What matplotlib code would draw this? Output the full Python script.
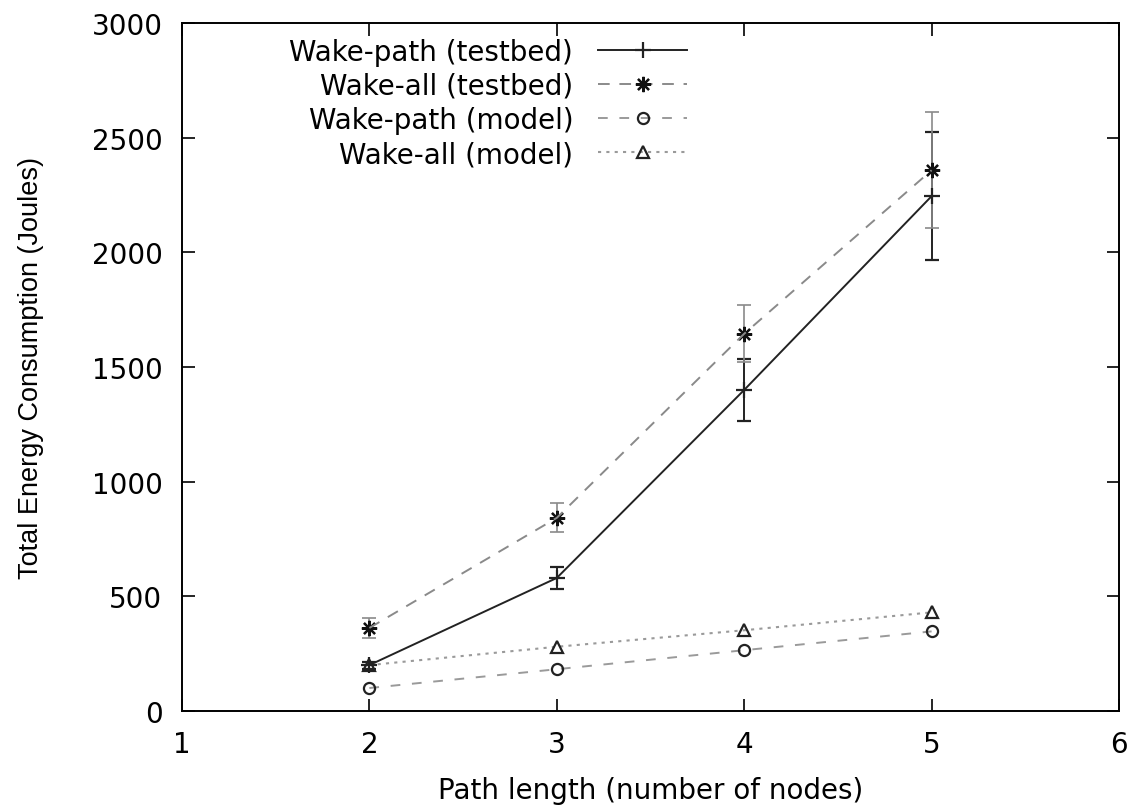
import matplotlib
matplotlib.use("Agg")
import matplotlib.pyplot as plt
from matplotlib.lines import Line2D

plt.rcParams['font.family'] = ['DejaVu Sans']

# path length (number of nodes)
path_len = [2, 3, 4, 5]

# testbed measurements with std-dev
wake_path_tb = [200, 580, 1400, 2245]
wake_path_tb_err = [15, 48, 135, 280]
wake_all_tb = [362, 842, 1645, 2358]
wake_all_tb_err = [45, 63, 125, 252]

# model estimates
wake_path_model = [100, 182, 265, 347]
wake_all_model = [200, 280, 352, 430]

labels = ["Wake-path (testbed)", "Wake-all (testbed)",
          "Wake-path (model)", "Wake-all (model)"]

# styles for the four series
st1 = dict(color='#222222', ls='-', lw=1.4, marker='+', ms=11, mew=1.6)
st2 = dict(color='#8a8a8a', ls=(0, (6, 5)), lw=1.4)
star = dict(marker=(8, 2, 0), ms=11, mew=1.6, mec='#111111')
st3 = dict(color='#9a9a9a', ls=(0, (5, 6)), lw=1.4, marker='o', ms=8,
           mfc='none', mec='#222222', mew=1.6)
st4 = dict(color='#9a9a9a', ls=(0, (1.5, 2.5)), lw=1.5, marker='^', ms=8,
           mfc='none', mec='#222222', mew=1.6)

fig = plt.figure(figsize=(11.4, 8.12), dpi=100)
ax = fig.add_axes([0.1596, 0.1232, 0.8220, 0.8472])

ax.errorbar(path_len, wake_path_tb, yerr=wake_path_tb_err, **st1,
            capsize=5, elinewidth=1.4, capthick=1.4)
ax.errorbar(path_len, wake_all_tb, yerr=wake_all_tb_err, **st2,
            capsize=5, elinewidth=1.2, capthick=1.2)
ax.plot(path_len, wake_all_tb, ls='none', **star)
ax.plot(path_len, wake_path_model, **st3)
ax.plot(path_len, wake_all_model, **st4)

ax.set_xlim(1, 6)
ax.set_ylim(0, 3000)
ax.set_xticks([1, 2, 3, 4, 5, 6])
ax.set_yticks([0, 500, 1000, 1500, 2000, 2500, 3000])
ax.tick_params(direction='in', length=9, width=1.2, top=True, right=True,
               labelsize=20, pad=14)
for sp in ax.spines.values():
    sp.set_linewidth(1.4)

ax.set_xlabel("Path length (number of nodes)", fontsize=20, labelpad=13)
ax.set_ylabel("Total Energy Consumption (Joules)", fontsize=19.5, labelpad=34,
              family=['Liberation Sans', 'DejaVu Sans'])

handles = [Line2D([], [], **st1), Line2D([], [], **st2, **star),
           Line2D([], [], **st3), Line2D([], [], **st4)]
ax.legend(handles=handles, labels=labels, loc='upper left',
          bbox_to_anchor=(0.088, 1.015), frameon=False, markerfirst=False,
          fontsize=20, handlelength=3.2, handletextpad=0.9,
          labelspacing=0.22)

fig.savefig("out.png", dpi=100)
